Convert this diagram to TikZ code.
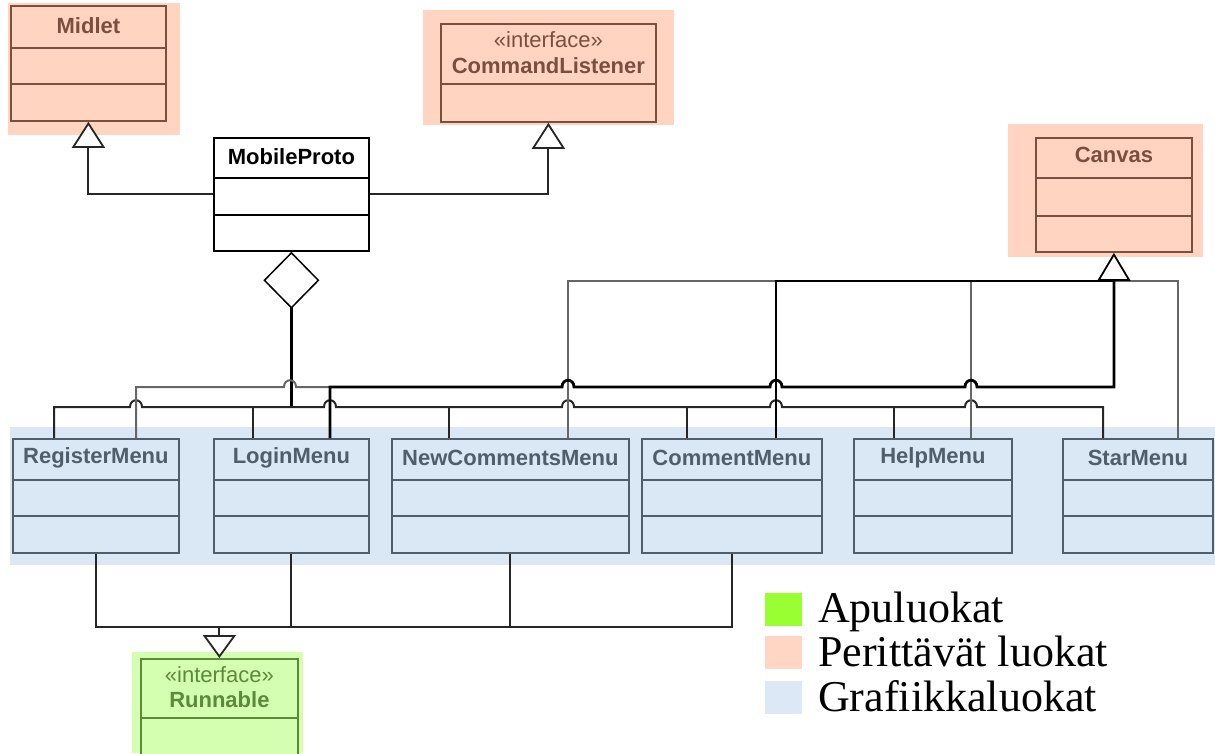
\documentclass[tikz,border=0pt]{standalone}
\usepackage{fontspec}
\setmainfont{Liberation Serif}
\setsansfont{Liberation Sans}
\definecolor{peachbg}{HTML}{FFD5C2}
\definecolor{peachln}{HTML}{7A4F40}
\definecolor{bluebg}{HTML}{DAE8F6}
\definecolor{blueln}{HTML}{4F5D6D}
\definecolor{greenbg}{HTML}{D4FFB0}
\definecolor{greenln}{HTML}{5C8A3A}
\definecolor{legreen}{HTML}{99FF33}
\definecolor{lepeach}{HTML}{FFD5C4}
\definecolor{leblue}{HTML}{DCE8F5}
\usetikzlibrary{shapes, arrows.meta, positioning, fit, calc}

\newcommand{\clsfont}{\sffamily\fontsize{22}{26}\selectfont}
\newcommand{\hop}[2]{-- (#1-6,#2) .. controls (#1-6,#2-9) and (#1+6,#2-9) .. (#1+6,#2)}

\tikzset{
  cls/.style={line width=1.8pt, inner sep=0pt, anchor=north west},
  peachcls/.style={cls, draw=peachln, fill=peachbg},
  bluecls/.style={cls, draw=blueln, fill=bluebg},
  greencls/.style={cls, draw=greenln, fill=greenbg},
  plaincls/.style={cls, draw=black, fill=white},
  clsname/.style={font=\clsfont\bfseries, inner sep=0pt},
  stereo/.style={font=\clsfont, inner sep=0pt},
  divider/.style={line width=1.8pt},
  conn/.style={draw=black!60, line width=2pt},
  busa/.style={draw=black!85, line width=2pt},
  busb/.style={draw=black, line width=2.8pt},
  inherit/.style={-{Triangle[length=#1, width=33pt, fill=white, line width=1.8pt]}},
  legsq/.style={minimum width=37pt, minimum height=33pt, inner sep=0pt},
  legtxt/.style={font=\fontsize{44}{48}\selectfont, inner sep=0pt, anchor=base west}
}

\begin{document}
\begin{tikzpicture}[x=1pt, y=-1pt]
  \useasboundingbox (0,0) rectangle (1215,753);
  \clip (0,0) rectangle (1215,753);

  % colour groups
  \fill[peachbg] (8,3) rectangle (180,135);
  \fill[peachbg] (423,10) rectangle (674,125);
  \fill[peachbg] (1008,124) rectangle (1203,257);
  \fill[bluebg] (10,427) rectangle (1215,565);
  \fill[greenbg] (132,652) rectangle (303,753);

  % inherited classes
  \node[peachcls, minimum width=155pt, minimum height=115pt] (midlet) at (10,5) {};
  \node[clsname, text=peachln] (midlet-t) at ([yshift=-21pt]midlet.north) {Midlet};
  \draw[peachln, divider] ([yshift=-43pt]midlet.north west) -- ([yshift=-43pt]midlet.north east);
  \draw[peachln, divider] ([yshift=-79pt]midlet.north west) -- ([yshift=-79pt]midlet.north east);

  \node[peachcls, minimum width=215pt, minimum height=98pt] (cmdl) at (440,23) {};
  \node[stereo, text=peachln] (cmdl-s) at ([yshift=-17pt]cmdl.north) {«interface»};
  \node[clsname, text=peachln] (cmdl-t) at ([yshift=-43pt]cmdl.north) {CommandListener};
  \draw[peachln, divider] ([yshift=-61pt]cmdl.north west) -- ([yshift=-61pt]cmdl.north east);

  \node[peachcls, minimum width=156pt, minimum height=114pt] (canvas) at (1035,137) {};
  \node[clsname, text=peachln] (canvas-t) at ([yshift=-18pt]canvas.north) {Canvas};
  \draw[peachln, divider] ([yshift=-41pt]canvas.north west) -- ([yshift=-41pt]canvas.north east);
  \draw[peachln, divider] ([yshift=-79pt]canvas.north west) -- ([yshift=-79pt]canvas.north east);

  % main class
  \node[plaincls, minimum width=155pt, minimum height=113pt] (mobile) at (213,137) {};
  \node[clsname] (mobile-t) at ([yshift=-20pt]mobile.north) {MobileProto};
  \draw[divider] ([yshift=-41pt]mobile.north west) -- ([yshift=-41pt]mobile.north east);
  \draw[divider] ([yshift=-78pt]mobile.north west) -- ([yshift=-78pt]mobile.north east);

  % menus
  \foreach \nm/\x/\w/\lbl/\a/\b in {reg/12/166/RegisterMenu/42/124,
      login/213/155/LoginMenu/40/117, newc/391/237/NewCommentsMenu/58/177,
      comm/641/180/CommentMenu/46/135, help/853/158/HelpMenu/41/118,
      star/1062/150/StarMenu/41/116} {
    \node[bluecls, minimum width=\w pt, minimum height=114pt] (\nm) at (\x,438) {};
    \node[clsname, text=blueln] (\nm-t) at ([yshift=-20pt]\nm.north) {\lbl};
    \draw[blueln, divider] ([yshift=-42pt]\nm.north west) -- ([yshift=-42pt]\nm.north east);
    \draw[blueln, divider] ([yshift=-78pt]\nm.north west) -- ([yshift=-78pt]\nm.north east);
    \coordinate (\nm-a) at ([xshift=\a pt]\nm.north west);
    \coordinate (\nm-b) at ([xshift=\b pt]\nm.north west);
  }

  % helper class
  \node[greencls, minimum width=157pt, minimum height=110pt] (run) at (140,658) {};
  \node[stereo, text=greenln] (run-s) at ([yshift=-17pt]run.north) {«interface»};
  \node[clsname, text=greenln] (run-t) at ([yshift=-42pt]run.north) {Runnable};
  \draw[greenln, divider] ([yshift=-60pt]run.north west) -- ([yshift=-60pt]run.north east);

  % MobileProto relations
  \draw[busa, inherit=26pt] (mobile.west) -| (midlet.south);
  \draw[busa, inherit=26pt] (mobile.east) -| (cmdl.south);
  \coordinate (agg) at (mobile.south |- 0,407);
  \draw[busb, {Diamond[length=57pt, width=56pt, fill=white, line width=1.5pt]}-] (mobile.south) -- (agg);

  % aggregation bus
  \draw[busa] (reg-a) -- (reg-a |- agg) \hop{136}{407} \hop{330}{407} \hop{568}{407}
    \hop{776}{407} \hop{971}{407} -- (star-a |- agg) -- (star-a);
  \foreach \m in {login, newc, comm, help}
    \draw[busa] (\m-a) -- (\m-a |- agg);

  % Canvas buses
  \coordinate (cvfoot) at (canvas.south |- 0,281);
  \draw[conn] (newc-b) -- (newc-b |- cvfoot) -- (star-b |- cvfoot) -- (star-b);
  \draw[conn] (help-b) -- (help-b |- cvfoot);
  \draw[busb] (comm-b) -- (comm-b |- cvfoot) -- (cvfoot);
  \draw[conn] (reg-b) -- (reg-b |- 0,387) \hop{290}{387} -- (login-b |- 0,387);
  \draw[busb] (login-b) -- (login-b |- 0,387) \hop{568}{387} \hop{776}{387}
    \hop{971}{387} -- (cvfoot |- 0,387) -- (cvfoot);
  \draw[busb, inherit=28pt] (cvfoot) -- (canvas.south);

  % Runnable
  \coordinate (rj) at (run.north |- 0,627);
  \foreach \m in {reg, login, newc, comm}
    \draw[busa] (\m.south) |- (rj);
  \draw[busa, inherit=23pt] (rj) -- (run.north);

  % legend
  \node[legsq, fill=legreen] (leg-help) at (783,609) {};
  \node[legsq, fill=lepeach] (leg-inh) at (783,652) {};
  \node[legsq, fill=leblue] (leg-gfx) at (783,697) {};
  \node[legtxt] (leg-help-t) at (818,622) {Apuluokat};
  \node[legtxt] (leg-inh-t) at (818,666) {Perittävät luokat};
  \node[legtxt] (leg-gfx-t) at (818,711) {Grafiikkaluokat};
\end{tikzpicture}
\end{document}
